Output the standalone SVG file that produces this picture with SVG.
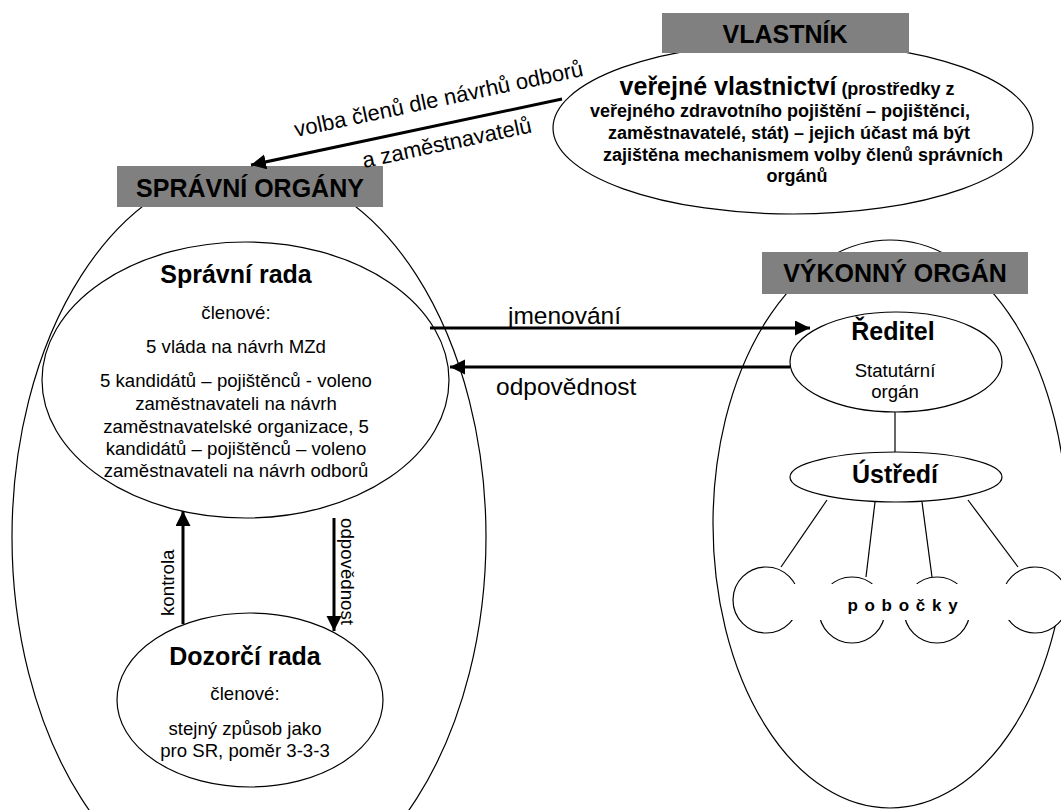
<svg xmlns="http://www.w3.org/2000/svg" width="1061" height="810" viewBox="0 0 1061 810">
<style>
  text { font-family: "Liberation Sans", Arial, sans-serif; fill: #000; }
  .shape { fill: #fff; stroke: #000; stroke-width: 1.2; }
  .hdr { fill: #808080; stroke: none; }
  .hdrt { font-size: 25px; font-weight: bold; text-anchor: middle; }
  .title { font-size: 25px; font-weight: bold; text-anchor: middle; }
  .body { font-size: 18.6px; text-anchor: middle; }
  .own { font-size: 18px; font-weight: bold; text-anchor: middle; }
  .lbl { font-size: 24.5px; }
  .dlbl { font-size: 22px; }
  .vlbl { font-size: 18.7px; }
  .arrow { stroke: #000; stroke-width: 3; fill: none; marker-end: url(#ah); }
  .thin { stroke: #000; stroke-width: 1.2; fill: none; }
</style>
<defs>
  <marker id="ah" markerUnits="userSpaceOnUse" markerWidth="16" markerHeight="16" refX="15" refY="7.5" orient="auto">
    <path d="M0,0 L15,7.5 L0,15 Z" fill="#000"/>
  </marker>
</defs>
<rect width="1061" height="810" fill="#fff"/>

<g id="vlastnik">
  <ellipse class="shape" cx="793" cy="128" rx="240" ry="86"/>
  <rect class="hdr" x="662" y="13" width="247" height="40"/>
  <text class="hdrt" x="785" y="43">VLASTNÍK</text>
  <text class="own" x="787" y="95"><tspan font-size="25px">veřejné vlastnictví</tspan> (prostředky z</text>
  <text class="own" x="780" y="117">veřejného zdravotního pojištění – pojištěnci,</text>
  <text class="own" x="789" y="139">zaměstnavatelé, stát) – jejich účast má být</text>
  <text class="own" x="803" y="161">zajištěna mechanismem volby členů správních</text>
  <text class="own" x="797" y="182">orgánů</text>
</g>

<g id="spravni-organy">
  <ellipse class="shape" cx="249" cy="537" rx="237" ry="370"/>
  <rect class="hdr" x="117" y="166" width="266" height="41"/>
  <text class="hdrt" x="250" y="197">SPRÁVNÍ ORGÁNY</text>
</g>

<g id="spravni-rada">
  <ellipse class="shape" cx="245.5" cy="380" rx="203.5" ry="138"/>
  <text class="title" x="236" y="283">Správní rada</text>
  <text class="body" x="236" y="319">členové:</text>
  <text class="body" x="236" y="353">5 vláda na návrh MZd</text>
  <text class="body" x="236" y="387">5 kandidátů – pojištěnců - voleno</text>
  <text class="body" x="236" y="410">zaměstnavateli na návrh</text>
  <text class="body" x="236" y="433">zaměstnavatelské organizace, 5</text>
  <text class="body" x="236" y="455">kandidátů – pojištěnců – voleno</text>
  <text class="body" x="236" y="477">zaměstnavateli na návrh odborů</text>
</g>

<g id="dozorci-rada">
  <ellipse class="shape" cx="250" cy="700" rx="133" ry="87"/>
  <text class="title" x="245" y="665">Dozorčí rada</text>
  <text class="body" x="245" y="700">členové:</text>
  <text class="body" x="245" y="735">stejný způsob jako</text>
  <text class="body" x="245" y="757">pro SR, poměr 3-3-3</text>
</g>

<g id="vykonny-organ">
  <ellipse class="shape" cx="890" cy="524" rx="177" ry="284"/>
  <rect class="hdr" x="762" y="252" width="266" height="42"/>
  <text class="hdrt" x="895" y="282">VÝKONNÝ ORGÁN</text>
</g>

<g id="reditel">
  <ellipse class="shape" cx="896" cy="362" rx="106" ry="50"/>
  <text class="title" x="893" y="340">Ředitel</text>
  <text class="body" x="895" y="377" font-size="17.8px">Statutární</text>
  <text class="body" x="895" y="398" font-size="17.8px">orgán</text>
</g>

<g id="ustredi">
  <ellipse class="shape" cx="896" cy="477" rx="106" ry="25"/>
  <text class="title" x="895" y="483">Ústředí</text>
</g>

<g id="pobocky">
  <circle class="shape" cx="766" cy="600" r="33"/>
  <circle class="shape" cx="852" cy="610" r="33"/>
  <circle class="shape" cx="937" cy="610" r="33"/>
  <circle class="shape" cx="1035" cy="600" r="33"/>
  <rect x="789" y="584" width="268" height="36" fill="#fff"/>
  <text x="903" y="611" font-size="17px" font-weight="bold" text-anchor="middle" letter-spacing="1">p o b o č k y</text>
</g>

<g id="connectors">
  <line class="arrow" x1="562" y1="99" x2="251" y2="165"/>
  <text class="dlbl" transform="translate(296,137) rotate(-12)">volba členů dle návrhů odborů</text>
  <text class="dlbl" font-size="23.5px" transform="translate(364,168) rotate(-12)">a zaměstnavatelů</text>

  <line class="arrow" x1="430" y1="328" x2="810" y2="328"/>
  <text class="lbl" x="508" y="324">jmenování</text>
  <line class="arrow" x1="790" y1="367" x2="450" y2="367"/>
  <text class="lbl" x="496" y="395">odpovědnost</text>

  <line class="arrow" x1="183" y1="624" x2="183" y2="511"/>
  <text class="vlbl" transform="translate(174,616) rotate(-90)">kontrola</text>
  <line class="arrow" x1="334" y1="518" x2="334" y2="631"/>
  <text class="vlbl" transform="translate(341,518) rotate(90)">odpovědnost</text>

  <line class="thin" x1="895" y1="412" x2="895" y2="452"/>
  <line class="thin" x1="827" y1="500" x2="781" y2="567"/>
  <line class="thin" x1="875" y1="502" x2="866" y2="577"/>
  <line class="thin" x1="922" y1="502" x2="932" y2="577"/>
  <line class="thin" x1="968" y1="500" x2="1018" y2="567"/>
</g>
</svg>
